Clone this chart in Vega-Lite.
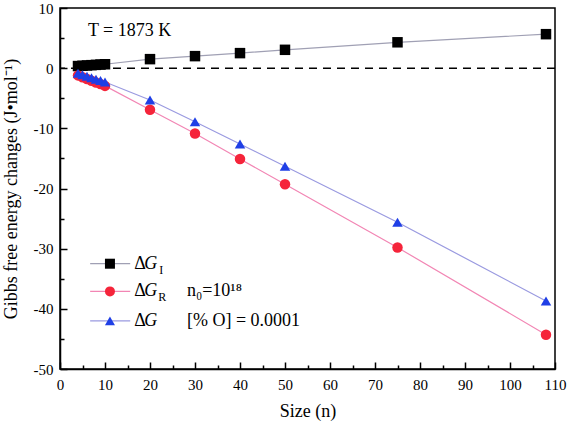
{
  "$schema": "https://vega.github.io/schema/vega-lite/v6.json",
  "width": 495,
  "height": 361,
  "autosize": {"type": "none"},
  "padding": {"left": 60, "top": 8, "right": 14, "bottom": 55},
  "config": {
    "view": {"stroke": "black", "strokeWidth": 1.5},
    "font": "Liberation Serif",
    "style": {
      "guide-label": {"font": "Liberation Serif", "fill": "black"},
      "guide-title": {"font": "Liberation Serif", "fill": "black"}
    },
    "axis": {
      "grid": false,
      "domainColor": "black",
      "domainWidth": 1.5,
      "tickColor": "black",
      "tickWidth": 1.5,
      "labelColor": "black",
      "titleColor": "black",
      "labelFont": "Liberation Serif",
      "titleFont": "Liberation Serif",
      "labelFontSize": 15,
      "titleFontSize": 18,
      "titleFontWeight": "normal"
    }
  },
  "datasets": {
    "main": [
      {"n": 4, "series": "GI", "value": 0.35},
      {"n": 5, "series": "GI", "value": 0.4},
      {"n": 6, "series": "GI", "value": 0.45},
      {"n": 7, "series": "GI", "value": 0.5},
      {"n": 8, "series": "GI", "value": 0.55},
      {"n": 9, "series": "GI", "value": 0.6},
      {"n": 10, "series": "GI", "value": 0.65},
      {"n": 20, "series": "GI", "value": 1.5},
      {"n": 30, "series": "GI", "value": 2.0},
      {"n": 40, "series": "GI", "value": 2.5},
      {"n": 50, "series": "GI", "value": 3.05},
      {"n": 75, "series": "GI", "value": 4.3},
      {"n": 108, "series": "GI", "value": 5.65},
      {"n": 4, "series": "GR", "value": -1.2},
      {"n": 5, "series": "GR", "value": -1.5},
      {"n": 6, "series": "GR", "value": -1.8},
      {"n": 7, "series": "GR", "value": -2.1},
      {"n": 8, "series": "GR", "value": -2.4},
      {"n": 9, "series": "GR", "value": -2.65},
      {"n": 10, "series": "GR", "value": -2.95},
      {"n": 20, "series": "GR", "value": -6.9},
      {"n": 30, "series": "GR", "value": -10.85},
      {"n": 40, "series": "GR", "value": -15.1},
      {"n": 50, "series": "GR", "value": -19.3},
      {"n": 75, "series": "GR", "value": -29.8},
      {"n": 108, "series": "GR", "value": -44.3},
      {"n": 4, "series": "G", "value": -0.85},
      {"n": 5, "series": "G", "value": -1.1},
      {"n": 6, "series": "G", "value": -1.35},
      {"n": 7, "series": "G", "value": -1.6},
      {"n": 8, "series": "G", "value": -1.85},
      {"n": 9, "series": "G", "value": -2.05},
      {"n": 10, "series": "G", "value": -2.3},
      {"n": 20, "series": "G", "value": -5.3},
      {"n": 30, "series": "G", "value": -8.9},
      {"n": 40, "series": "G", "value": -12.6},
      {"n": 50, "series": "G", "value": -16.3},
      {"n": 75, "series": "G", "value": -25.6},
      {"n": 108, "series": "G", "value": -38.7}
    ],
    "one": [{}]
  },
  "data": {"name": "one"},
  "layer": [
    {
      "layer": [
        {
          "mark": {"type": "rule", "color": "black", "strokeWidth": 1.5, "strokeDash": [8, 6]},
          "encoding": {"y": {"datum": 0, "type": "quantitative"}}
        },
        {
          "data": {"name": "main"},
          "mark": {"type": "line", "strokeWidth": 1.2},
          "encoding": {
            "x": {
              "field": "n", "type": "quantitative",
              "scale": {"domain": [0, 110], "nice": false, "zero": false},
              "axis": {"orient": "bottom", "values": [0, 10, 20, 30, 40, 50, 60, 70, 80, 90, 100, 110], "tickSize": -7, "labelPadding": 15, "title": "Size (n)", "titlePadding": 10, "labelFlush": false, "labelFont": "Liberation Serif", "titleFont": "Liberation Serif", "labelExpr": "replace(datum.label, '−', '-')"}
            },
            "y": {
              "field": "value", "type": "quantitative",
              "scale": {"domain": [-50, 10], "nice": false, "zero": false},
              "axis": {"orient": "left", "values": [-50, -40, -30, -20, -10, 0, 10], "tickSize": -7, "labelPadding": 14, "title": "Gibbs free energy changes (J•mol⁻¹)", "titlePadding": 13, "labelFlush": false, "labelFont": "Liberation Serif", "titleFont": "Liberation Serif", "labelExpr": "replace(datum.label, '−', '-')"}
            },
            "stroke": {
              "field": "series", "type": "nominal",
              "scale": {"domain": ["GI", "GR", "G"], "range": ["#a0a0b4", "#f286b4", "#9a9ae0"]},
              "legend": null
            },
            "detail": {"field": "series"}
          }
        },
        {
          "data": {"name": "main"},
          "mark": {"type": "point", "filled": true, "opacity": 1, "size": 110},
          "encoding": {
            "x": {"field": "n", "type": "quantitative"},
            "y": {"field": "value", "type": "quantitative"},
            "shape": {
              "field": "series", "type": "nominal",
              "scale": {"domain": ["GI", "GR", "G"], "range": ["square", "circle", "triangle-up"]},
              "legend": null
            },
            "fill": {
              "field": "series", "type": "nominal",
              "scale": {"domain": ["GI", "GR", "G"], "range": ["#000000", "#f5243a", "#1f3fe6"]},
              "legend": null
            }
          }
        },
        {
          "mark": {"type": "rule", "color": "#a0a0b4", "strokeWidth": 1.2},
          "encoding": {"x": {"datum": 6.7, "type": "quantitative"}, "x2": {"datum": 15.6}, "y": {"datum": -32.5, "type": "quantitative"}}
        },
        {
          "mark": {"type": "rule", "color": "#f286b4", "strokeWidth": 1.2},
          "encoding": {"x": {"datum": 6.7, "type": "quantitative"}, "x2": {"datum": 15.6}, "y": {"datum": -37.1, "type": "quantitative"}}
        },
        {
          "mark": {"type": "rule", "color": "#9a9ae0", "strokeWidth": 1.2},
          "encoding": {"x": {"datum": 6.7, "type": "quantitative"}, "x2": {"datum": 15.6}, "y": {"datum": -42.0, "type": "quantitative"}}
        },
        {
          "mark": {"type": "point", "shape": "square", "filled": true, "color": "#000000", "opacity": 1, "size": 100},
          "encoding": {"x": {"datum": 11.1, "type": "quantitative"}, "y": {"datum": -32.5, "type": "quantitative"}}
        },
        {
          "mark": {"type": "point", "shape": "circle", "filled": true, "color": "#f5243a", "opacity": 1, "size": 100},
          "encoding": {"x": {"datum": 11.1, "type": "quantitative"}, "y": {"datum": -37.1, "type": "quantitative"}}
        },
        {
          "mark": {"type": "point", "shape": "triangle-up", "filled": true, "color": "#1f3fe6", "opacity": 1, "size": 100},
          "encoding": {"x": {"datum": 11.1, "type": "quantitative"}, "y": {"datum": -42.0, "type": "quantitative"}}
        },
        {
          "mark": {"type": "text", "text": "Δ", "align": "left", "baseline": "middle", "fontSize": 18, "font": "Liberation Serif", "color": "black"},
          "encoding": {"x": {"datum": 16.5, "type": "quantitative"}, "y": {"datum": -32.5, "type": "quantitative"}}
        },
        {
          "mark": {"type": "text", "text": "Δ", "align": "left", "baseline": "middle", "fontSize": 18, "font": "Liberation Serif", "color": "black"},
          "encoding": {"x": {"datum": 16.5, "type": "quantitative"}, "y": {"datum": -37.1, "type": "quantitative"}}
        },
        {
          "mark": {"type": "text", "text": "Δ", "align": "left", "baseline": "middle", "fontSize": 18, "font": "Liberation Serif", "color": "black"},
          "encoding": {"x": {"datum": 16.5, "type": "quantitative"}, "y": {"datum": -42.0, "type": "quantitative"}}
        },
        {
          "mark": {"type": "text", "text": "G", "align": "left", "baseline": "middle", "dx": 10, "fontSize": 18, "fontStyle": "italic", "font": "Liberation Serif", "color": "black"},
          "encoding": {"x": {"datum": 16.5, "type": "quantitative"}, "y": {"datum": -32.5, "type": "quantitative"}}
        },
        {
          "mark": {"type": "text", "text": "G", "align": "left", "baseline": "middle", "dx": 10, "fontSize": 18, "fontStyle": "italic", "font": "Liberation Serif", "color": "black"},
          "encoding": {"x": {"datum": 16.5, "type": "quantitative"}, "y": {"datum": -37.1, "type": "quantitative"}}
        },
        {
          "mark": {"type": "text", "text": "G", "align": "left", "baseline": "middle", "dx": 10, "fontSize": 18, "fontStyle": "italic", "font": "Liberation Serif", "color": "black"},
          "encoding": {"x": {"datum": 16.5, "type": "quantitative"}, "y": {"datum": -42.0, "type": "quantitative"}}
        },
        {
          "mark": {"type": "text", "text": "I", "align": "left", "baseline": "middle", "dx": 25, "dy": 6, "fontSize": 12, "font": "Liberation Serif", "color": "black"},
          "encoding": {"x": {"datum": 16.5, "type": "quantitative"}, "y": {"datum": -32.5, "type": "quantitative"}}
        },
        {
          "mark": {"type": "text", "text": "R", "align": "left", "baseline": "middle", "dx": 24, "dy": 6, "fontSize": 12, "font": "Liberation Serif", "color": "black"},
          "encoding": {"x": {"datum": 16.5, "type": "quantitative"}, "y": {"datum": -37.1, "type": "quantitative"}}
        },
        {
          "mark": {"type": "text", "text": "n₀=10¹⁸", "align": "left", "baseline": "middle", "fontSize": 18, "font": "Liberation Serif", "color": "black"},
          "encoding": {"x": {"datum": 28.2, "type": "quantitative"}, "y": {"datum": -37.1, "type": "quantitative"}}
        },
        {
          "mark": {"type": "text", "text": "[% O] = 0.0001", "align": "left", "baseline": "middle", "fontSize": 18, "font": "Liberation Serif", "color": "black"},
          "encoding": {"x": {"datum": 28.2, "type": "quantitative"}, "y": {"datum": -42.0, "type": "quantitative"}}
        },
        {
          "mark": {"type": "text", "text": "T = 1873 K", "align": "left", "baseline": "middle", "fontSize": 18, "font": "Liberation Serif", "color": "black"},
          "encoding": {"x": {"datum": 6.2, "type": "quantitative"}, "y": {"datum": 6.15, "type": "quantitative"}}
        }
      ]
    },
    {
      "mark": {"type": "rule", "opacity": 0},
      "encoding": {
        "y": {"datum": 0, "type": "quantitative", "axis": {"orient": "left", "values": [-45, -35, -25, -15, -5, 5], "tickSize": -4, "labels": false, "domain": false, "title": null}}
      }
    },
    {
      "mark": {"type": "rule", "opacity": 0},
      "encoding": {
        "x": {"datum": 50, "type": "quantitative", "axis": {"orient": "bottom", "values": [5, 15, 25, 35, 45, 55, 65, 75, 85, 95, 105], "tickSize": -4, "labels": false, "domain": false, "title": null}}
      }
    }
  ],
  "resolve": {"axis": {"x": "independent", "y": "independent"}}
}
